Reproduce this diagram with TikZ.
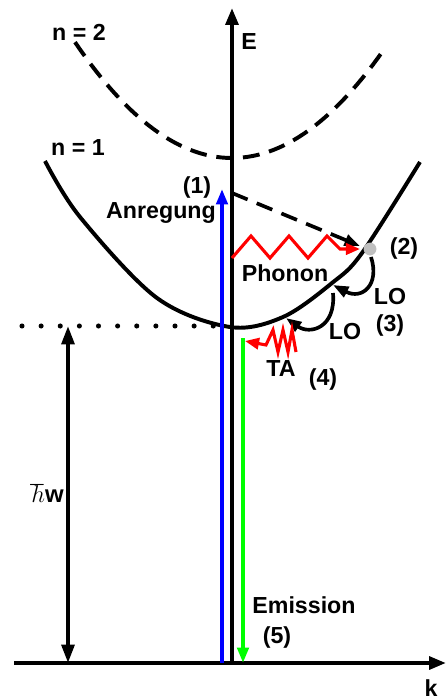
\documentclass[tikz,border=0pt]{standalone}
\usepackage{fontspec}
\setmainfont{Liberation Sans}
\usepackage{tikz}
\usetikzlibrary{arrows.meta}
\usetikzlibrary{positioning}

\tikzset{
  lbl/.style={font=\fontsize{16.5}{19}\selectfont\bfseries, inner sep=0pt},
  ax/.style={line width=2.8pt, -{Triangle[length=12pt,width=9pt]}},
  vline/.style={line width=2.7pt},
  bighead/.style={-{Triangle[length=11pt,width=8pt]}},
  redhead/.style={-{Triangle[length=10pt,width=8pt]}},
}

\begin{document}
\begin{tikzpicture}[x=0.025cm, y=-0.025cm]
        \useasboundingbox (0,0) rectangle (446,700);
        % axes
        \coordinate (origin) at (232,663);
        \coordinate (etop) at (232,8);
        \coordinate (kleft) at (14,663);
        \coordinate (kright) at (446,663);
        \draw[ax] (origin) -- (etop);
        \draw[ax] (kleft) -- (kright);
        \node[lbl] (elabel) at (249,42) {E};
        \node[lbl] (klabel) at (431,688) {k};

        % bands
        \draw[line width=2.8pt, dash pattern=on 12pt off 7pt]
            plot[domain=-1.57:1.51, samples=60] ({232+100*\x}, {158-47*\x*\x});
        \draw[line width=2.8pt] plot[smooth, tension=0.55] coordinates
            {(45,161) (80,217) (157,298) (230,327) (283,317) (332,283) (362,253) (420,162)};
        \node[lbl] (ntwo) at (79,32) {n = 2};
        \node[lbl] (none) at (78,148) {n = 1};

        % band gap
        \coordinate (gapl) at (22,326);
        \coordinate (gapr) at (222,326);
        \draw[line width=3.6pt, line cap=round, dash pattern=on 0pt off 13.6pt] (gapl) -- (gapr);
        \coordinate (hwtop) at (68,326);
        \coordinate (hwbot) at (68,663);
        \draw[vline, {Triangle[length=13pt,width=9pt]}-{Triangle[length=13pt,width=9pt]}] (hwbot) -- (hwtop);
        \node[font=\fontsize{17}{19}\selectfont, inner sep=0pt] (hw) at (47,493) {$\hbar$\textbf{w}};

        % (1) excitation
        \coordinate (exbot) at (222,663);
        \coordinate (extop) at (222,189);
        \draw[vline, blue, bighead] (exbot) -- (extop);
        \node[lbl] (one) at (197,187) {(1)};
        \node[lbl] (anr) at (161,213) {Anregung};

        % (2) relaxation
        \coordinate (virt) at (232,193);
        \coordinate (hot) at (360,246);
        \draw[line width=2.6pt, dash pattern=on 12pt off 7pt, bighead] (virt) -- (hot);
        \fill[black!25] (370,249) circle (0.16cm);
        \draw[line width=2.2pt, red, redhead]
            (232,258) -- (251,236) -- (270,258) -- (289,236) -- (308,258) -- (327,236)
            -- (340,249) -- (360,249);
        \node[lbl] (phon) at (285,273) {Phonon};
        \node[lbl] (two) at (404,248) {(2)};

        % (3) LO cascade
        \draw[line width=2.6pt, bighead] (371,257) .. controls (380,285) and (362,300) .. (333,285);
        \node[lbl] (lo1) at (390,297) {LO};
        \node[lbl] (three) at (390,325) {(3)};
        \draw[line width=2.6pt, bighead] (333,293) .. controls (336,328) and (310,335) .. (286,318);
        \node[lbl] (lo2) at (345,332) {LO};

        % (4) TA
        \draw[line width=2.2pt, red, redhead]
            (296,352) -- (292,330) -- (288,352) -- (283,330) -- (278,352) -- (273,330)
            -- (266,345) -- (245,341);
        \node[lbl] (ta) at (281,369) {TA};
        \node[lbl] (four) at (323,379) {(4)};

        % (5) emission
        \coordinate (emtop) at (243,338);
        \coordinate (embot) at (243,663);
        \draw[vline, green, bighead] (emtop) -- (embot);
        \node[lbl] (emis) at (304,605) {Emission};
        \node[lbl] (five) at (277,637) {(5)};
    \end{tikzpicture}
\end{document}
